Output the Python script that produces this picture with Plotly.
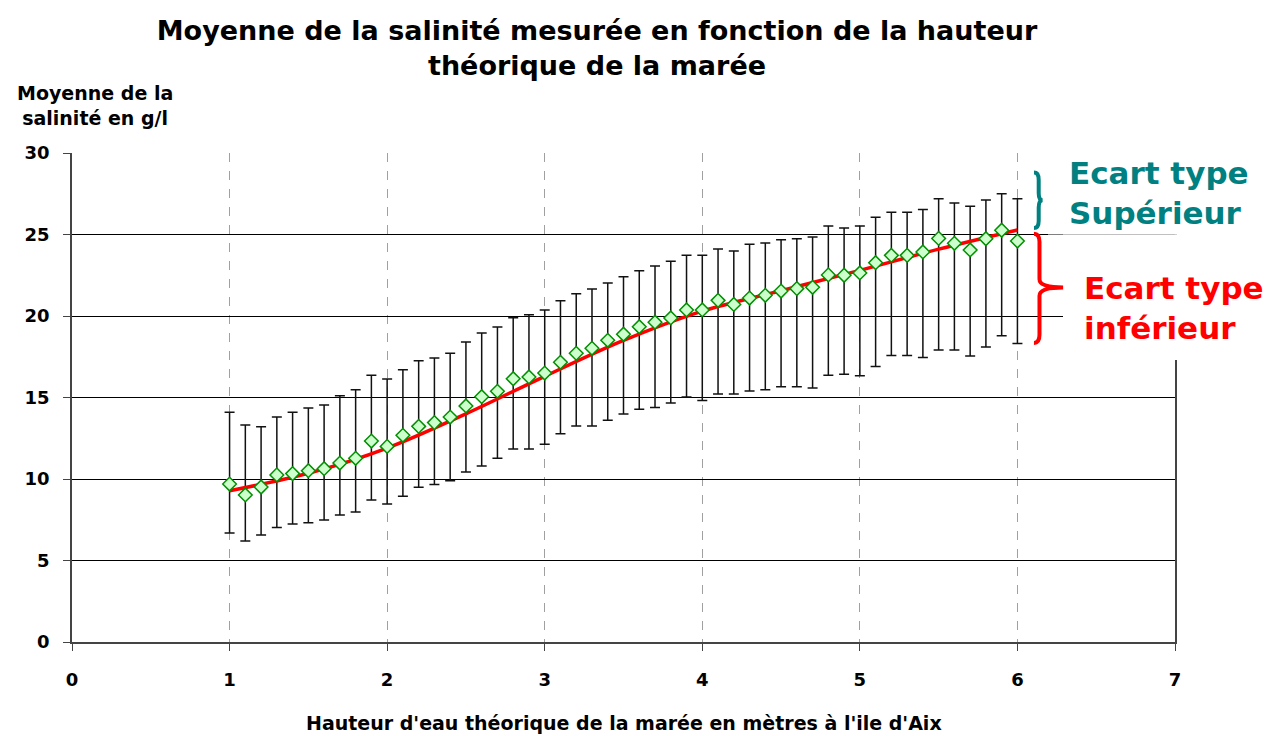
import numpy as np
import plotly.graph_objects as go

# ---------------- data ----------------
hauteur = [1.0, 1.1, 1.2, 1.3, 1.4, 1.5, 1.6, 1.7, 1.8, 1.9,
           2.0, 2.1, 2.2, 2.3, 2.4, 2.5, 2.6, 2.7, 2.8, 2.9,
           3.0, 3.1, 3.2, 3.3, 3.4, 3.5, 3.6, 3.7, 3.8, 3.9,
           4.0, 4.1, 4.2, 4.3, 4.4, 4.5, 4.6, 4.7, 4.8, 4.9,
           5.0, 5.1, 5.2, 5.3, 5.4, 5.5, 5.6, 5.7, 5.8, 5.9, 6.0]

salinite_moy = [9.69, 9.02, 9.51, 10.25, 10.33, 10.51, 10.63, 10.98, 11.27, 12.33,
                12.00, 12.68, 13.23, 13.46, 13.80, 14.48, 15.05, 15.38, 16.15, 16.26,
                16.50, 17.16, 17.71, 18.02, 18.51, 18.88, 19.34, 19.62, 19.88, 20.37,
                20.37, 20.96, 20.71, 21.10, 21.27, 21.53, 21.68, 21.76, 22.52, 22.50,
                22.64, 23.27, 23.72, 23.72, 23.93, 24.76, 24.46, 24.05, 24.74, 25.26, 24.60]

borne_sup = [14.09, 13.31, 13.21, 13.80, 14.09, 14.36, 14.54, 15.11, 15.48, 16.36,
             16.13, 16.71, 17.26, 17.43, 17.71, 18.40, 18.96, 19.33, 19.90, 20.08,
             20.37, 20.94, 21.37, 21.66, 22.02, 22.41, 22.78, 23.07, 23.36, 23.72,
             23.72, 24.11, 23.99, 24.40, 24.48, 24.68, 24.74, 24.85, 25.52, 25.40,
             25.52, 26.06, 26.36, 26.36, 26.54, 27.20, 26.93, 26.73, 27.12, 27.50, 27.20]

borne_inf = [6.69, 6.20, 6.56, 7.03, 7.24, 7.32, 7.48, 7.79, 7.98, 8.71,
             8.47, 8.94, 9.49, 9.67, 9.90, 10.43, 10.80, 11.27, 11.84, 11.84,
             12.13, 12.78, 13.25, 13.25, 13.60, 13.99, 14.28, 14.38, 14.66, 15.03,
             14.81, 15.21, 15.21, 15.40, 15.48, 15.66, 15.66, 15.58, 16.36, 16.42,
             16.34, 16.90, 17.57, 17.57, 17.45, 17.91, 17.91, 17.55, 18.10, 18.79, 18.32]

# trend line (polynomial curve of the original)
tendance_x = [1.0, 1.5, 2.0, 2.5, 3.0, 3.5, 4.0, 4.5, 5.0, 5.5, 6.0]
tendance_y = [9.28, 10.35, 11.9, 14.0, 16.3, 18.5, 20.3, 21.55, 22.8, 24.1, 25.28]

x_ticks = [0, 1, 2, 3, 4, 5, 6, 7]
y_ticks = [0, 5, 10, 15, 20, 25, 30]

# ---------------- derived ----------------
moy = np.array(salinite_moy)
ecart_sup = np.array(borne_sup) - moy
ecart_inf = moy - np.array(borne_inf)

FONT = "DejaVu Sans"

# layout geometry (pixels)
W, H = 1269, 736
L, R, T, B = 72, 94, 153, 94
PW, PH = W - L - R, H - T - B


def px_x(p):
    return (p - L) / PW


def px_y(p):
    return (H - B - p) / PH


fig = go.Figure()

# error bars (drawn first, below the line and markers)
fig.add_trace(go.Scatter(
    x=hauteur, y=salinite_moy, mode="markers",
    marker=dict(size=1, color="rgba(0,0,0,0)"),
    error_y=dict(type="data", symmetric=False, array=ecart_sup, arrayminus=ecart_inf,
                 color="#111111", thickness=1.5, width=5),
    showlegend=False, hoverinfo="skip"))

# trend line
fig.add_trace(go.Scatter(
    x=tendance_x, y=tendance_y, mode="lines",
    line=dict(color="#FF0000", width=3.5, shape="spline", smoothing=1.0),
    showlegend=False, hoverinfo="skip"))

# mean markers
fig.add_trace(go.Scatter(
    x=hauteur, y=salinite_moy, mode="markers",
    marker=dict(symbol="diamond", size=10.5, color="#CCFFCC",
                line=dict(color="#009000", width=1.5)),
    showlegend=False))


def brace(xl, xs, xt, yt, yb, ym, d):
    return (f"M {xl},{yt} Q {xs},{yt} {xs},{yt - d} "
            f"L {xs},{ym + d} Q {xs},{ym} {xt},{ym} "
            f"Q {xs},{ym} {xs},{ym - d} "
            f"L {xs},{yb + d} Q {xs},{yb} {xl},{yb}")


shapes = [
    # white boxes behind the labels (cover grid lines like in the original)
    dict(type="rect", xref="paper", yref="paper", x0=px_x(1048), x1=px_x(1275),
         y0=px_y(234.5), y1=px_y(140), fillcolor="white", line=dict(width=0), layer="above"),
    dict(type="rect", xref="paper", yref="paper", x0=px_x(1063), x1=px_x(1275),
         y0=px_y(360), y1=px_y(234.5), fillcolor="white", line=dict(width=0), layer="above"),
    # braces
    dict(type="path", xref="x", yref="y", layer="above",
         path=brace(6.105, 6.135, 6.16, 28.8, 25.4, 27.1, 0.45),
         line=dict(color="#008080", width=4)),
    dict(type="path", xref="x", yref="y", layer="above",
         path=brace(6.105, 6.14, 6.29, 25.05, 18.35, 21.75, 0.5),
         line=dict(color="#FF0000", width=4)),
]

annotations = [
    dict(text="Moyenne de la<br>salinité en g/l", xref="paper", yref="paper",
         x=px_x(95), y=px_y(106), xanchor="center", yanchor="middle", showarrow=False,
         align="center", font=dict(family=FONT, size=19, color="black", weight="bold")),
    dict(text="Hauteur d'eau théorique de la marée en mètres à l'ile d'Aix",
         xref="paper", yref="paper", x=0.5, y=px_y(723), xanchor="center", yanchor="middle",
         showarrow=False, font=dict(family=FONT, size=19, color="black", weight="bold")),
    dict(text="Ecart type<br>Supérieur", xref="paper", yref="paper",
         x=px_x(1067), y=px_y(193), xanchor="left", yanchor="middle", showarrow=False,
         align="left", font=dict(family=FONT, size=31, color="#008080", weight="bold")),
    dict(text="Ecart type<br>inférieur", xref="paper", yref="paper",
         x=px_x(1082), y=px_y(308), xanchor="left", yanchor="middle", showarrow=False,
         align="left", font=dict(family=FONT, size=31, color="#FF0000", weight="bold")),
]

fig.update_layout(
    width=W, height=H,
    margin=dict(l=L, r=R, t=T, b=B, pad=0, autoexpand=False),
    paper_bgcolor="white", plot_bgcolor="white",
    title=dict(text="Moyenne de la salinité mesurée en fonction de la hauteur<br>théorique de la marée",
               x=597 / W, xanchor="center", xref="container",
               y=1 - 40 / H, yanchor="middle", yref="container",
               font=dict(family=FONT, size=27, color="black", weight="bold")),
    shapes=shapes,
    annotations=annotations,
    xaxis=dict(range=[0, 7], tickvals=x_ticks, ticks="outside", ticklen=7, tickcolor="#444",
               showline=True, linecolor="#444", linewidth=2, automargin=False,
               showgrid=True, gridcolor="#A0A0A0", griddash="dash", gridwidth=1,
               zeroline=False, ticklabelstandoff=13,
               tickfont=dict(family=FONT, size=18, color="black", weight="bold")),
    yaxis=dict(range=[0, 30], tickvals=y_ticks, ticks="outside", ticklen=7, tickcolor="#444",
               showline=True, linecolor="#444", linewidth=1.5, mirror=True, automargin=False,
               showgrid=True, gridcolor="black", gridwidth=1,
               zeroline=False, ticklabelstandoff=10,
               tickfont=dict(family=FONT, size=18, color="black", weight="bold")),
)

fig.write_html("out.html")
